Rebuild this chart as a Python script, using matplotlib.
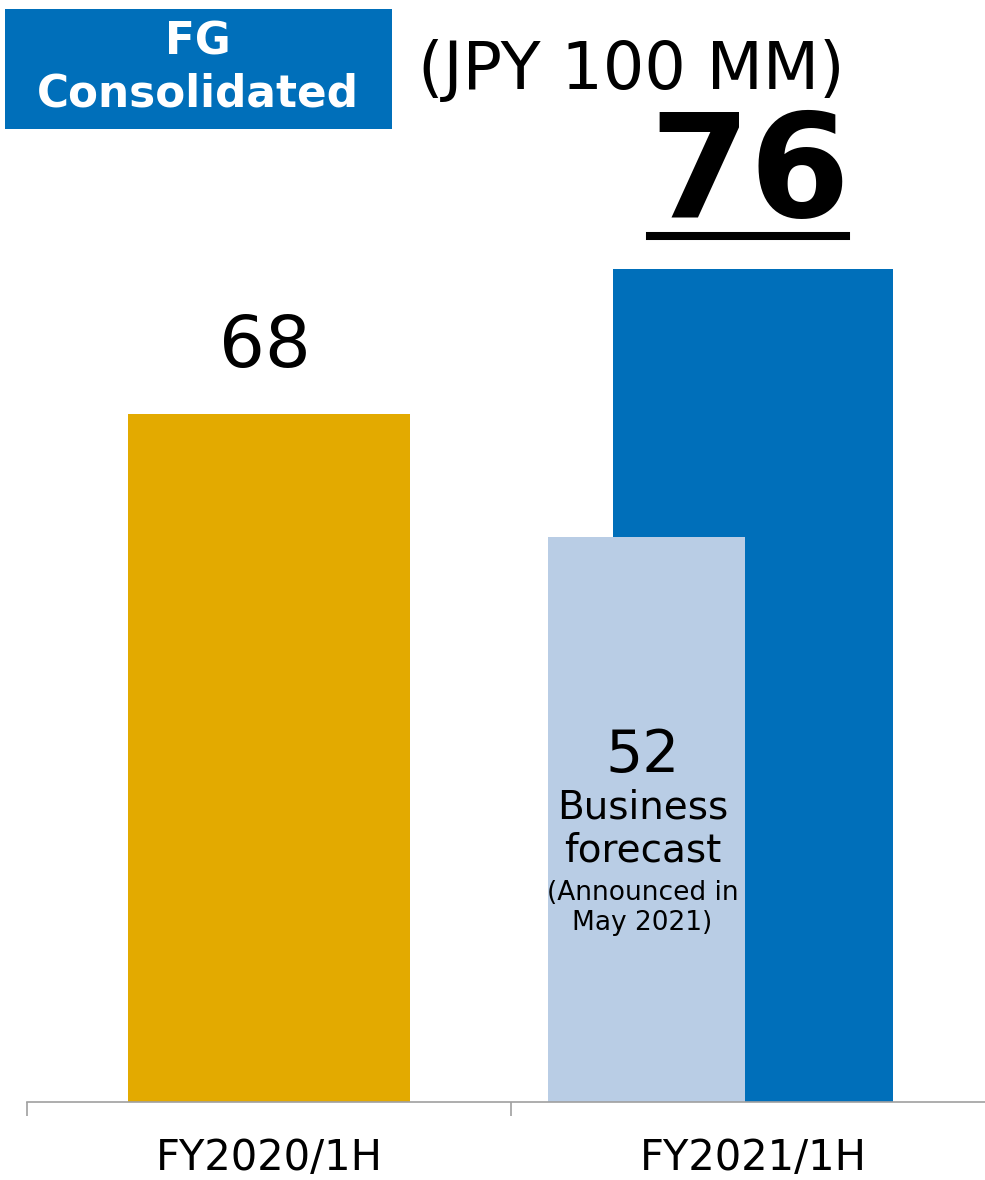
import matplotlib.pyplot as plt
from matplotlib.lines import Line2D
from matplotlib.patches import Rectangle

# data
categories = ["FY2020/1H", "FY2021/1H"]
bar_names = ["FY2020/1H", "Forecast", "FY2021/1H"]
bar_labels = ["68", "52", "76"]       # values printed on the chart
bar_heights = [62.7, 51.5, 76]        # heights as drawn in the picture
bar_x = [0.0, 0.78, 1.0]
bar_w = [0.583, 0.407, 0.58]
bar_colors = ["#E3AA00", "#B9CDE5", "#006FBA"]

W, H = 985, 1180
fig = plt.figure(figsize=(W / 100, H / 100), dpi=100)
ax = fig.add_axes([27 / W, 78 / H, 958 / W, 1102 / H])

# blue (actual) first, forecast on top of it
for i in [0, 2, 1]:
    ax.bar(bar_x[i], bar_heights[i], width=bar_w[i], color=bar_colors[i], zorder=2 if i == 1 else 1)

ax.set_xlim(-0.5, -0.5 + 958 / 484)
ax.set_ylim(0, 100.5)

for s in ["top", "right", "left"]:
    ax.spines[s].set_visible(False)
ax.spines["bottom"].set_color("#A0A0A0")
ax.spines["bottom"].set_linewidth(1.2)
ax.set_yticks([])
ax.set_xticks([-0.5, 0.5])
ax.set_xticklabels([])
ax.tick_params(axis="x", which="major", length=10, width=1.2, color="#A0A0A0")
ax.set_xticks([0, 1], minor=True)
ax.set_xticklabels(categories, minor=True, fontsize=30)
ax.tick_params(axis="x", which="minor", length=0, pad=25)

# value labels
ax.annotate(bar_labels[0], (bar_x[0], bar_heights[0]), xytext=(-3, 48), textcoords="offset points",
            ha="center", va="center", fontsize=52)
ax.annotate(bar_labels[2], (bar_x[2], bar_heights[2]), xytext=(-2, 66), textcoords="offset points",
            ha="center", va="center", fontsize=104, fontweight="bold")
fig.add_artist(Line2D([650 / W, 846 / W], [1 - 236 / H, 1 - 236 / H], color="black", linewidth=5.8))

ax.annotate(bar_labels[1], (bar_x[1], bar_heights[1]), xytext=(-3, -157), textcoords="offset points",
            ha="center", va="center", fontsize=42)
ax.annotate("Business\nforecast", (bar_x[1], bar_heights[1]), xytext=(-3, -210), textcoords="offset points",
            ha="center", va="center", fontsize=28, linespacing=1.15)
ax.annotate("(Announced in\nMay 2021)", (bar_x[1], bar_heights[1]), xytext=(-3, -267), textcoords="offset points",
            ha="center", va="center", fontsize=19, linespacing=1.2)

# header box and unit
fig.add_artist(Rectangle((5 / W, 1 - 129 / H), 387 / W, 120 / H, transform=fig.transFigure,
                         facecolor="#006FBA", edgecolor="none"))
fig.text(198 / W, 1 - 42 / H, "FG", ha="center", va="center", fontsize=31.5, fontweight="bold", color="white")
fig.text(198 / W, 1 - 94 / H, "Consolidated", ha="center", va="center", fontsize=31.5, fontweight="bold", color="white")
fig.text(631 / W, 1 - 71 / H, "(JPY 100 MM)", ha="center", va="center", fontsize=47)

plt.savefig("out.png", dpi=100)
